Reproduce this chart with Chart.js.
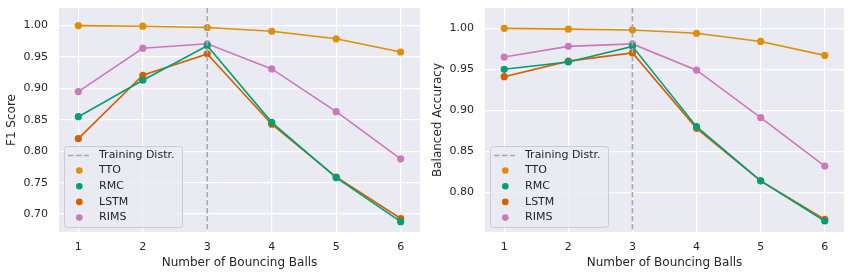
<!DOCTYPE html>
<html>
<head>
<meta charset="utf-8">
<script src="https://cdn.jsdelivr.net/npm/chart.js@4.4.0/dist/chart.umd.min.js"></script>
<style>
  html, body { margin: 0; padding: 0; background: #fff; }
  #wrap { position: relative; width: 852px; height: 276px; }
  .box { position: absolute; top: 0; width: 426px; height: 276px; }
</style>
</head>
<body>
<div id="wrap">
  <div class="box" style="left:0"><canvas id="chartF1"></canvas></div>
  <div class="box" style="left:426px"><canvas id="chartAcc"></canvas></div>
</div>
<script>
// number of bouncing balls
const balls = [1, 2, 3, 4, 5, 6]
const trainingBalls = 3

const models = ['TTO', 'RMC', 'LSTM', 'RIMS']
const colors = ['#de8f05', '#029e73', '#d55e00', '#cc78bc']

// F1 score per model
const f1TTO = [1.000, 0.999, 0.997, 0.991, 0.979, 0.958]
const f1RMC = [0.855, 0.913, 0.968, 0.846, 0.758, 0.688]
const f1LSTM = [0.820, 0.921, 0.955, 0.843, 0.759, 0.693]
const f1RIMS = [0.895, 0.964, 0.971, 0.931, 0.863, 0.788]

// balanced accuracy per model
const accTTO = [1.000, 0.999, 0.998, 0.994, 0.984, 0.967]
const accRMC = [0.950, 0.959, 0.978, 0.880, 0.814, 0.765]
const accLSTM = [0.941, 0.960, 0.970, 0.878, 0.814, 0.767]
const accRIMS = [0.965, 0.978, 0.981, 0.949, 0.891, 0.832]

const xTicks = [1, 2, 3, 4, 5, 6]
const f1Ticks = [0.70, 0.75, 0.80, 0.85, 0.90, 0.95, 1.00]
const accTicks = [0.80, 0.85, 0.90, 0.95, 1.00]

const textColor = '#262626'
const fontFamily = '"DejaVu Sans", sans-serif'

const bgPlugin = {
    id: 'bg',
    beforeDraw(chart) {
        const { ctx, chartArea: a } = chart
        ctx.save()
        ctx.fillStyle = '#eaeaf2'
        ctx.fillRect(a.left, a.top, a.right - a.left, a.bottom - a.top)
        ctx.restore()
    }
}

const vlinePlugin = {
    id: 'vline',
    afterDatasetsDraw(chart) {
        const { ctx, chartArea: a } = chart
        const x = chart.scales.x.getPixelForValue(trainingBalls)
        ctx.save()
        ctx.strokeStyle = '#a8a8a8'
        ctx.lineWidth = 1.6
        ctx.setLineDash([5.5, 2.5])
        ctx.beginPath()
        ctx.moveTo(x, a.top)
        ctx.lineTo(x, a.bottom)
        ctx.stroke()
        ctx.restore()
    }
}

const legendPlugin = {
    id: 'boxLegend',
    afterDraw(chart) {
        const { ctx, chartArea: a } = chart
        const w = 118, h = 81
        const x0 = a.left + 5, y0 = a.bottom - 5 - h
        ctx.save()
        ctx.beginPath()
        ctx.roundRect(x0 + 0.5, y0 + 0.5, w, h, 3)
        ctx.fillStyle = 'rgba(234,234,242,0.8)'
        ctx.fill()
        ctx.strokeStyle = '#cccccc'
        ctx.lineWidth = 1
        ctx.stroke()

        ctx.font = '11px ' + fontFamily
        ctx.fillStyle = textColor
        ctx.textBaseline = 'middle'
        ctx.textAlign = 'left'

        let y = y0 + 9.5
        ctx.strokeStyle = '#a8a8a8'
        ctx.lineWidth = 1.6
        ctx.setLineDash([5.5, 2.5])
        ctx.beginPath()
        ctx.moveTo(x0 + 4, y)
        ctx.lineTo(x0 + 25, y)
        ctx.stroke()
        ctx.setLineDash([])
        ctx.fillText('Training Distr.', x0 + 35, y)

        models.forEach((m, i) => {
            y = y0 + 24.5 + i * 15.7
            ctx.beginPath()
            ctx.arc(x0 + 15.3, y, 3.3, 0, Math.PI * 2)
            ctx.fillStyle = colors[i]
            ctx.fill()
            ctx.fillStyle = textColor
            ctx.fillText(m, x0 + 35, y)
        })
        ctx.restore()
    }
}

function makeChart(id, series, yTicks, yMin, yMax, yTitle, padRight) {
    const datasets = series.map((vals, i) => ({
        label: models[i],
        data: balls.map((b, k) => ({ x: b, y: vals[k] })),
        borderColor: colors[i],
        backgroundColor: colors[i],
        borderWidth: 1.6,
        pointRadius: 3.6,
        pointBorderWidth: 0,
        pointHoverRadius: 3.6,
        tension: 0
    }))

    return new Chart(document.getElementById(id), {
        type: 'line',
        data: { datasets },
        plugins: [bgPlugin, vlinePlugin, legendPlugin],
        options: {
            responsive: true,
            maintainAspectRatio: false,
            animation: false,
            events: [],
            layout: { padding: { left: 5, right: padRight, top: 0, bottom: 0 } },
            plugins: { legend: { display: false }, tooltip: { enabled: false } },
            scales: {
                x: {
                    type: 'linear',
                    min: 0.7,
                    max: 6.3,
                    afterBuildTicks(scale) { scale.ticks = xTicks.map(v => ({ value: v })) },
                    afterFit(scale) {
                        scale.height = 44
                        scale.paddingLeft = 0
                        scale.paddingRight = 0
                    },
                    grid: { color: '#ffffff', lineWidth: 1.2, drawTicks: false },
                    border: { display: false },
                    ticks: {
                        color: textColor,
                        font: { family: fontFamily, size: 11 },
                        padding: 9,
                        callback: v => String(v)
                    },
                    title: {
                        display: true,
                        text: 'Number of Bouncing Balls',
                        color: textColor,
                        font: { family: fontFamily, size: 12 },
                        padding: { top: 0, bottom: 6 }
                    }
                },
                y: {
                    type: 'linear',
                    min: yMin,
                    max: yMax,
                    afterBuildTicks(scale) { scale.ticks = yTicks.map(v => ({ value: v })) },
                    afterFit(scale) {
                        scale.width = 54
                        scale.paddingTop = 8
                        scale.paddingBottom = 0
                    },
                    grid: { color: '#ffffff', lineWidth: 1.2, drawTicks: false },
                    border: { display: false },
                    ticks: {
                        color: textColor,
                        font: { family: fontFamily, size: 11 },
                        padding: 11,
                        callback: v => v.toFixed(2)
                    },
                    title: {
                        display: true,
                        text: yTitle,
                        color: textColor,
                        font: { family: fontFamily, size: 12 },
                        padding: 0
                    }
                }
            }
        }
    })
}

makeChart('chartF1', [f1TTO, f1RMC, f1LSTM, f1RIMS], f1Ticks, 0.6715, 1.028, 'F1 Score', 6)
makeChart('chartAcc', [accTTO, accRMC, accLSTM, accRIMS], accTicks, 0.7516, 1.0248, 'Balanced Accuracy', 8)
</script>
</body>
</html>
